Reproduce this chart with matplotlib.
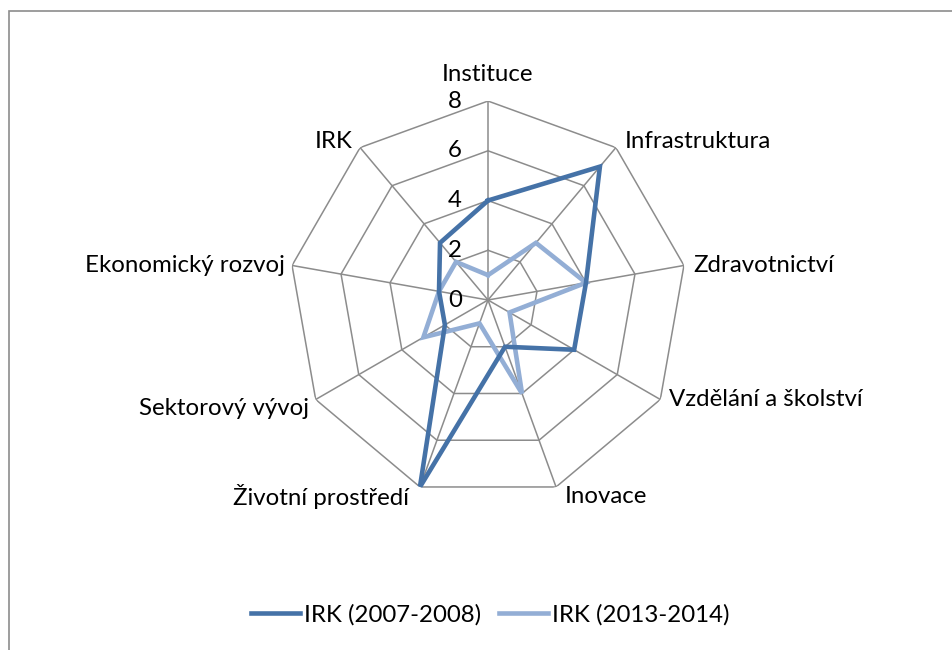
import matplotlib
matplotlib.use("Agg")
import matplotlib.pyplot as plt
import numpy as np
from matplotlib.patches import Rectangle

plt.rcParams['font.family'] = ['Lato', 'DejaVu Sans']

categories = ['Instituce', 'Infrastruktura', 'Zdravotnictví', 'Vzdělání a školství',
              'Inovace', 'Životní prostředí', 'Sektorový vývoj', 'Ekonomický rozvoj', 'IRK']
irk_2007 = [4, 7, 4, 4, 2, 8, 2, 2, 3]
irk_2013 = [1, 3, 4, 1, 4, 1, 3, 2, 2]
series_labels = ['IRK (2007-2008)', 'IRK (2013-2014)']
rings = [2, 4, 6, 8]
tick_values = [0, 2, 4, 6, 8]

dark = '#4572A7'
light = '#93AED5'
grid_col = '#8C8C8C'
fs = 17.3

fig = plt.figure(figsize=(9.52, 6.5), dpi=100)
ax = fig.add_axes([0.3036, 0.2323, 0.418, 0.6123], projection='polar')
ax.set_theta_offset(np.pi / 2)
ax.set_theta_direction(-1)
ax.set_ylim(0, 8)
ax.grid(False)
ax.spines['polar'].set_visible(False)
ax.set_xticks([])
ax.set_yticks([])
ax.patch.set_alpha(0)

n = len(categories)
angles = np.arange(n) * 2 * np.pi / n
closed = np.append(angles, angles[0])

# polygon grid + spokes
for r in rings:
    ax.plot(closed, [r] * (n + 1), color=grid_col, lw=1.1, zorder=1)
for a in angles:
    ax.plot([a, a], [0, 8], color=grid_col, lw=1.1, zorder=1)

# data
h1, = ax.plot(closed, irk_2007 + irk_2007[:1], color=dark, lw=3.3, zorder=3,
              solid_joinstyle='miter', label=series_labels[0])
h2, = ax.plot(closed, irk_2013 + irk_2013[:1], color=light, lw=3.3, zorder=2,
              solid_joinstyle='miter', label=series_labels[1])

# radial tick labels left of the vertical spoke
for v in tick_values:
    ax.annotate(str(v), xy=(0, v), xytext=(-26, 0), textcoords='offset pixels',
                ha='right', va='center', fontsize=fs, annotation_clip=False)

# category labels
for a, name in zip(angles, categories):
    s, c = np.sin(a), np.cos(a)
    if abs(s) < 0.01:
        ha, off = 'center', (0, 27)
    elif s > 0:
        ha, off = 'left', (9, 6 if c > 0.5 else (-9 if c < -0.5 else 0))
    else:
        ha, off = 'right', (-7, 6 if c > 0.5 else (-9 if c < -0.5 else 0))
    if c < -0.9:
        off = (off[0] if s > 0 else off[0] - 4, -10)
        ha = 'left' if s > 0 else 'right'
    ax.annotate(name, xy=(a, 8), xytext=off, textcoords='offset pixels',
                ha=ha, va='center', fontsize=fs, annotation_clip=False)

fig.legend(handles=[h1, h2], loc='center', bbox_to_anchor=(0.5147, 35 / 650),
           ncol=2, frameon=False, fontsize=fs, handlelength=2.05,
           handletextpad=0.16, columnspacing=0.75)

# chart area border (runs off right and bottom)
fig.patches.append(Rectangle((9 / 952, -0.1), 1.1, (650 - 10.5) / 650 + 0.1,
                             transform=fig.transFigure, fill=False,
                             ec=grid_col, lw=1.2))

fig.savefig('out.png', dpi=100)
